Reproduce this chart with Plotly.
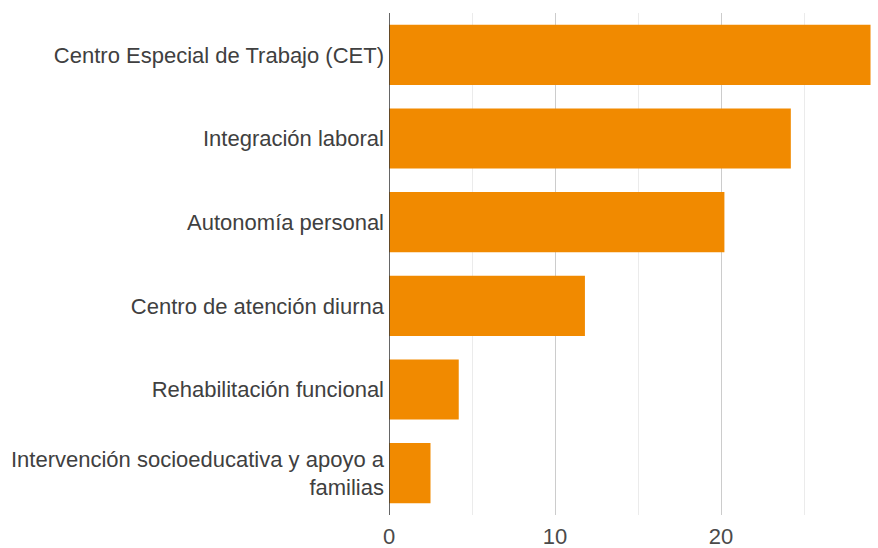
import plotly.graph_objects as go

categories = [
    "Centro Especial de Trabajo (CET)",
    "Integración laboral",
    "Autonomía personal",
    "Centro de atención diurna",
    "Rehabilitación funcional",
    "Intervención socioeducativa y apoyo a<br>familias",
]
values = [29.0, 24.2, 20.2, 11.8, 4.2, 2.5]
x_ticks = [0, 10, 20]

fig = go.Figure(go.Bar(
    x=values, y=categories, orientation="h",
    marker=dict(color="#F18A00", line=dict(width=0)),
))
fig.update_layout(
    width=878, height=548,
    margin=dict(l=389, r=0, t=13, b=33),
    plot_bgcolor="white", paper_bgcolor="white",
    bargap=0.28,
    showlegend=False,
    font=dict(family="Liberation Sans, Arial", size=22, color="#3A3A3A"),
)
fig.update_xaxes(
    range=[0, 29.45], tickvals=x_ticks, ticktext=[str(v) for v in x_ticks],
    showgrid=True, gridcolor="#CCCCCC", gridwidth=1,
    minor=dict(dtick=5, tick0=0, showgrid=True, gridcolor="#EBEBEB", gridwidth=1),
    zeroline=False, showline=False, ticks="",
    ticklabelstandoff=6,
    tickfont=dict(size=22, color="#4A4A4A"),
)
fig.update_yaxes(
    autorange="reversed", showgrid=False, ticks="", showline=False,
    ticklabelstandoff=4,
    tickfont=dict(size=22, color="#404040"),
)
fig.add_shape(type="line", xref="x", yref="paper", x0=0, x1=0, y0=0, y1=1,
              line=dict(color="#333333", width=1.5))
fig.write_html("out.html")
